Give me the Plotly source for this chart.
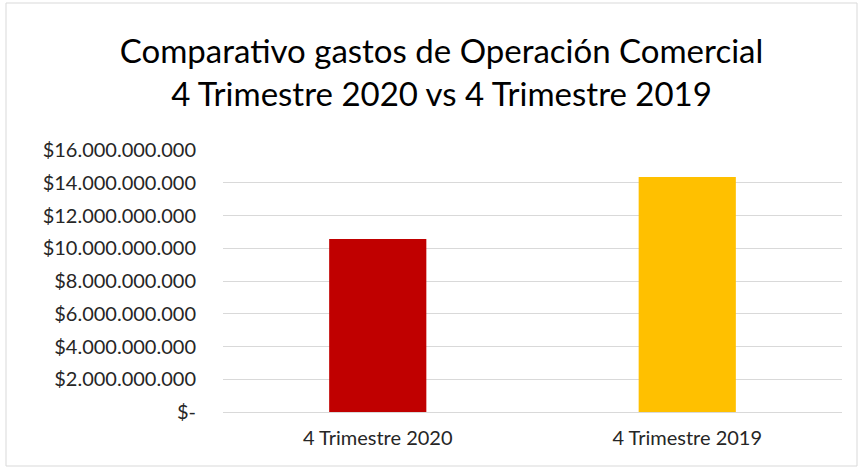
import plotly.graph_objects as go

# datos
categorias = ["4 Trimestre 2020", "4 Trimestre 2019"]
gastos = [10560000000, 14350000000]
colores = ["#C00000", "#FFC000"]

tick_vals = [0, 2e9, 4e9, 6e9, 8e9, 10e9, 12e9, 14e9, 16e9]
tick_text = ["$-", "$2.000.000.000", "$4.000.000.000", "$6.000.000.000",
             "$8.000.000.000", "$10.000.000.000", "$12.000.000.000",
             "$14.000.000.000", "$16.000.000.000"]

W, H = 859, 468
ml, mr, mt, mb = 223, 17, 150, 56

fig = go.Figure()
fig.add_trace(go.Bar(x=categorias, y=gastos, marker_color=colores,
                     marker_line_width=0, width=0.314))

# borde del grafico (en coordenadas de papel)
pw = W - ml - mr
ph = H - mt - mb
fig.add_shape(type="rect", xref="paper", yref="paper",
              x0=(6 - ml) / pw, x1=(857 - ml) / pw,
              y0=(H - mb - 466) / ph, y1=(H - mb - 3) / ph,
              line=dict(color="#d9d9d9", width=1))

fig.update_layout(
    width=W, height=H,
    margin=dict(l=ml, r=mr, t=mt, b=mb),
    paper_bgcolor="white", plot_bgcolor="white",
    font=dict(family="Lato", color="#262626", size=21),
    title=dict(text="Comparativo gastos de Operación Comercial<br>4 Trimestre 2020 vs 4 Trimestre 2019",
               x=0.514, xanchor="center", y=0.865, yanchor="middle",
               font=dict(size=33, color="#000000", family="Lato")),
    showlegend=False,
)
fig.update_yaxes(range=[0, 16e9], tickvals=tick_vals, ticktext=tick_text,
                 gridcolor="#d9d9d9", gridwidth=1, zeroline=True,
                 zerolinecolor="#d9d9d9", zerolinewidth=1,
                 ticks="", showline=False, ticklabelstandoff=26,
                 tickfont=dict(size=20, color="#262626"))
fig.update_xaxes(showline=False, ticks="", ticklabelstandoff=12,
                 tickfont=dict(size=20, color="#262626"))

# quitar el margen del body para que la figura quede en (0,0)
fig.write_html("out.html", config={"displayModeBar": False},
               post_script="document.body.style.margin='0';")
